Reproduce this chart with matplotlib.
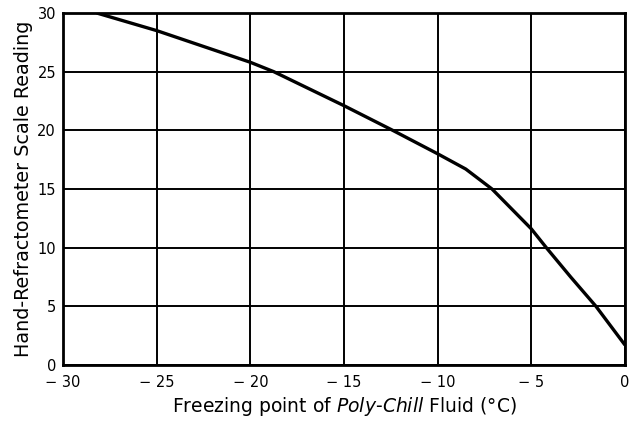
import matplotlib
matplotlib.use('Agg')
import matplotlib.pyplot as plt

# freezing point (deg C) vs hand-refractometer reading
freeze_c = [-28.2, -25, -20, -18.75, -15, -12.4, -10, -8.5, -7.1, -5, -4.2, -2.9, -1.55, 0]
reading = [30, 28.5, 25.8, 25, 22.1, 20, 18.0, 16.7, 15, 11.6, 10, 7.5, 5, 1.7]

x_ticks = [-30, -25, -20, -15, -10, -5, 0]
x_tick_labels = ['\u2212 30', '\u2212 25', '\u2212 20', '\u2212 15', '\u2212 10', '\u2212 5', '0']
y_ticks = [0, 5, 10, 15, 20, 25, 30]

plt.rcParams['font.family'] = 'DejaVu Sans'
plt.rcParams['mathtext.fontset'] = 'custom'
plt.rcParams['mathtext.rm'] = 'DejaVu Sans'
plt.rcParams['mathtext.it'] = 'DejaVu Sans:italic'

fig = plt.figure(figsize=(6.34, 4.21), dpi=100)
ax = fig.add_axes([63 / 634, 1 - 365 / 421, 562 / 634, 352 / 421])

ax.plot(freeze_c, reading, color='black', lw=2.4, solid_capstyle='butt', zorder=3)

ax.set_xlim(-30, 0)
ax.set_ylim(0, 30)
ax.set_xticks(x_ticks)
ax.set_xticklabels(x_tick_labels)
ax.set_yticks(y_ticks)
ax.tick_params(length=0, labelsize=10.5)
ax.tick_params(axis='x', pad=7)
ax.tick_params(axis='y', pad=5)
ax.grid(True, color='black', lw=1.4)
for s in ax.spines.values():
    s.set_linewidth(2)

ax.set_xlabel('Freezing point of $\\it{Poly}$-$\\it{Chill}$ Fluid (\u00b0C)', fontsize=13.5, labelpad=4)
ax.set_ylabel('Hand-Refractometer Scale Reading', fontsize=13.8, labelpad=3)

fig.savefig('out.png', dpi=100)
